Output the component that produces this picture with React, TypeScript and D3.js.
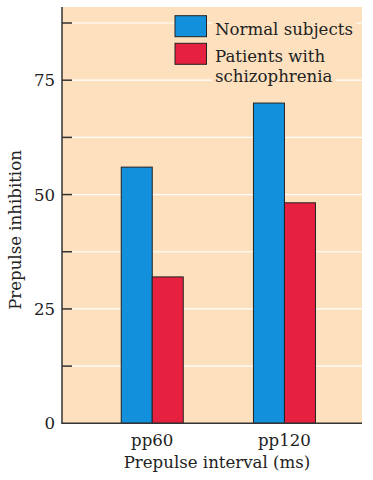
import * as d3 from 'd3';
import React, { useRef, useEffect } from 'react';

const categories = ['pp60', 'pp120'];
const seriesNames = ['Normal subjects', 'Patients with schizophrenia'];
const normalValues = [56, 70];
const patientValues = [32, 48.2];
const tickValues = [0, 12.5, 25, 37.5, 50, 62.5, 75, 87.5];
const labeledTicks = [0, 25, 50, 75];

const colors = ['#1390dc', '#e6213f'];
const peach = '#fde1bf';
const font = '"DejaVu Serif", "Liberation Serif", serif';
const fontSize = 16.6;

function App() {
  const ref = useRef(null);

  useEffect(() => {
    draw();
  }, []);

  const draw = () => {
    const width = 373;
    const height = 480;
    const left = 62;
    const right = 362;
    const top = 7;
    const bottom = 423.3;

    const svg = d3.select(ref.current).attr('width', width).attr('height', height);
    svg.selectAll('*').remove();

    const yScale = d3.scaleLinear().domain([0, 91]).range([bottom, top]);

    const xScale = d3.scaleBand()
      .domain(categories)
      .range([left, right])
      .paddingInner(0.531)
      .paddingOuter(0.4)
      .align(0.56);

    const inner = d3.scaleBand()
      .domain(seriesNames)
      .range([0, xScale.bandwidth()]);

    // background
    svg.append('rect')
      .attr('x', left).attr('y', top)
      .attr('width', right - left).attr('height', bottom - top)
      .attr('fill', peach);

    // gridlines
    svg.append('g').selectAll('line')
      .data(tickValues.slice(1))
      .enter()
      .append('line')
      .attr('x1', left + 10).attr('x2', right)
      .attr('y1', (d) => yScale(d)).attr('y2', (d) => yScale(d))
      .attr('stroke', '#ffffff')
      .attr('stroke-width', 1.2);

    // legend
    const legend = svg.append('g');
    const legendRows = [
      { lines: ['Normal subjects'], color: colors[0], y: 15.7, base: [34.5] },
      { lines: ['Patients with', 'schizophrenia'], color: colors[1], y: 43.3, base: [61.5, 82] },
    ];
    legendRows.forEach((row) => {
      row.lines.forEach((line, i) => {
        const t = legend.append('text')
          .attr('x', 215)
          .attr('y', row.base[i])
          .attr('font-family', font)
          .attr('font-size', fontSize)
          .attr('fill', '#222')
          .text(line);
        const bb = t.node().getBBox();
        legend.insert('rect', 'text')
          .attr('x', bb.x - 3).attr('y', bb.y)
          .attr('width', bb.width + 6).attr('height', bb.height)
          .attr('fill', peach);
      });
      legend.append('rect')
        .attr('x', 175).attr('y', row.y)
        .attr('width', 31.5).attr('height', 21)
        .attr('fill', row.color)
        .attr('stroke', '#222')
        .attr('stroke-width', 1);
    });

    // bars
    const groups = svg.append('g').selectAll('g')
      .data(categories)
      .enter()
      .append('g')
      .attr('transform', (d) => `translate(${xScale(d)},0)`);

    groups.selectAll('rect')
      .data((d, i) => [
        { name: seriesNames[0], value: normalValues[i], color: colors[0] },
        { name: seriesNames[1], value: patientValues[i], color: colors[1] },
      ])
      .enter()
      .append('rect')
      .attr('x', (d) => inner(d.name))
      .attr('y', (d) => yScale(d.value))
      .attr('width', inner.bandwidth())
      .attr('height', (d) => bottom - yScale(d.value))
      .attr('fill', (d) => d.color)
      .attr('stroke', '#222')
      .attr('stroke-width', 1);

    // y axis
    svg.append('line')
      .attr('x1', left).attr('x2', left)
      .attr('y1', top).attr('y2', bottom)
      .attr('stroke', '#333').attr('stroke-width', 1.5);

    svg.append('g').selectAll('line')
      .data(tickValues.slice(1))
      .enter()
      .append('line')
      .attr('x1', left).attr('x2', left + 10)
      .attr('y1', (d) => yScale(d)).attr('y2', (d) => yScale(d))
      .attr('stroke', '#333').attr('stroke-width', 1.5);

    svg.append('g').selectAll('text')
      .data(labeledTicks)
      .enter()
      .append('text')
      .attr('x', 55)
      .attr('y', (d) => yScale(d))
      .attr('dy', '0.36em')
      .attr('text-anchor', 'end')
      .attr('font-family', font)
      .attr('font-size', fontSize)
      .attr('fill', '#222')
      .text((d) => d);

    // x axis
    svg.append('line')
      .attr('x1', left - 0.75).attr('x2', right)
      .attr('y1', bottom).attr('y2', bottom)
      .attr('stroke', '#333').attr('stroke-width', 1.5);

    svg.append('g').selectAll('text')
      .data(categories)
      .enter()
      .append('text')
      .attr('x', (d) => xScale(d) + xScale.bandwidth() / 2)
      .attr('y', 446)
      .attr('text-anchor', 'middle')
      .attr('font-family', font)
      .attr('font-size', fontSize)
      .attr('fill', '#222')
      .text((d) => d);

    svg.append('text')
      .attr('x', 217)
      .attr('y', 468)
      .attr('text-anchor', 'middle')
      .attr('font-family', font)
      .attr('font-size', fontSize)
      .attr('fill', '#222')
      .text('Prepulse interval (ms)');

    svg.append('text')
      .attr('transform', 'translate(21,230) rotate(-90)')
      .attr('text-anchor', 'middle')
      .attr('font-family', font)
      .attr('font-size', fontSize)
      .attr('fill', '#222')
      .text('Prepulse inhibition');
  };

  return (
    <div>
      <svg ref={ref} style={{ position: 'absolute', left: 0, top: 0, background: '#fff' }}></svg>
    </div>
  );
}

export default App;
